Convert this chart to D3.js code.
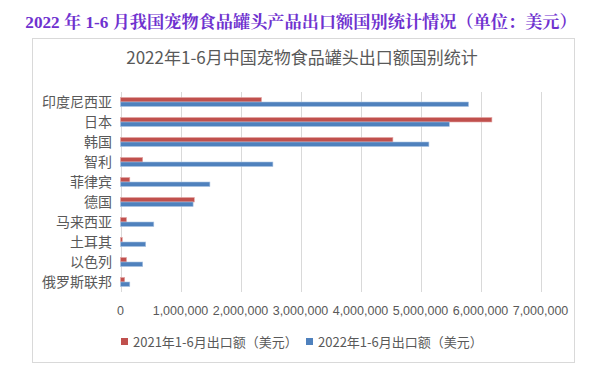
<!DOCTYPE html>
<html><head><meta charset="utf-8">
<script src="https://cdn.jsdelivr.net/npm/d3@7"></script>
<style>
html,body{margin:0;padding:0;background:#fff;}
svg{display:block;}
</style></head>
<body>
<svg id="c" width="600" height="372"></svg>
<script>
const pageTitle = "2022 年 1-6 月我国宠物食品罐头产品出口额国别统计情况（单位：美元）";
const chartTitle = "2022年1-6月中国宠物食品罐头出口额国别统计";
const categories = ["印度尼西亚","日本","韩国","智利","菲律宾","德国","马来西亚","土耳其","以色列","俄罗斯联邦"];
const seriesNames = ["2021年1-6月出口额（美元）","2022年1-6月出口额（美元）"];
const values2021 = [2350000,6190000,4540000,370000,155000,1230000,100000,30000,100000,70000];
const values2022 = [5800000,5480000,5140000,2540000,1490000,1210000,555000,420000,370000,155000];
const xTicks = [0,1000000,2000000,3000000,4000000,5000000,6000000,7000000];
const colors = ["#C0504D","#4F81BD"];
const strokes = ["#e4a6a4","#a9c2e2"];

const svg = d3.select("#c");
const cjk = "'Noto Sans CJK SC','Noto Sans',sans-serif";

// page title
svg.append("text").attr("x",301).attr("y",28).attr("text-anchor","middle")
  .attr("font-family","'Liberation Serif','Noto Serif CJK SC','Noto Sans CJK SC',serif")
  .attr("font-weight","bold").attr("font-size",17.2).attr("fill","#6F32CF")
  .text(pageTitle);

// chart box
svg.append("rect").attr("x",32.5).attr("y",38.5).attr("width",542).attr("height",324)
  .attr("fill","#fff").attr("stroke","#d9d9d9").attr("stroke-width",1);

svg.append("text").attr("x",302).attr("y",64).attr("text-anchor","middle")
  .attr("font-family",cjk).attr("font-size",17).attr("fill","#595959").text(chartTitle);

const x = d3.scaleLinear().domain([0,7000000]).range([120.5,540.5]);
const y = d3.scaleBand().domain(categories).range([92,292]).paddingInner(0.55).paddingOuter(0.275);
const sub = d3.scaleBand().domain([0,1]).range([0,y.bandwidth()]);

// gridlines
svg.append("g").selectAll("line").data(xTicks).join("line")
  .attr("x1",d=>Math.round(x(d))+0.5).attr("x2",d=>Math.round(x(d))+0.5)
  .attr("y1",92).attr("y2",292).attr("stroke","#d9d9d9").attr("stroke-width",1);

// bars
const series = [values2021, values2022];
series.forEach((vals,si)=>{
  svg.append("g").selectAll("rect").data(categories).join("rect")
    .attr("x",x(0)).attr("y",(d)=>y(d)+sub(si))
    .attr("width",(d,i)=>Math.max(0.8,x(vals[i])-x(0)))
    .attr("height",sub.bandwidth())
    .attr("fill",colors[si]).attr("stroke",strokes[si]).attr("stroke-width",0.6);
});

// category axis labels
svg.append("g").selectAll("text").data(categories).join("text")
  .attr("x",112).attr("y",d=>y(d)+y.bandwidth()/2).attr("dy","0.36em")
  .attr("text-anchor","end").attr("font-family",cjk).attr("font-size",14)
  .attr("fill","#595959").text(d=>d);

// x tick labels
const fmt = d3.format(",");
svg.append("g").selectAll("text").data(xTicks).join("text")
  .attr("x",d=>x(d)).attr("y",315).attr("text-anchor","middle")
  .attr("font-family","'Liberation Sans',Arial,sans-serif").attr("font-size",12.5)
  .attr("fill","#595959").text(d=>fmt(d));

// legend
const legX = [121,306];
seriesNames.forEach((n,i)=>{
  svg.append("rect").attr("x",legX[i]).attr("y",338).attr("width",7).attr("height",7).attr("fill",colors[i]);
  svg.append("text").attr("x",legX[i]+12).attr("y",346.5).attr("font-family",cjk)
    .attr("font-size",13).attr("fill","#595959").text(n);
});
</script>
</body></html>
